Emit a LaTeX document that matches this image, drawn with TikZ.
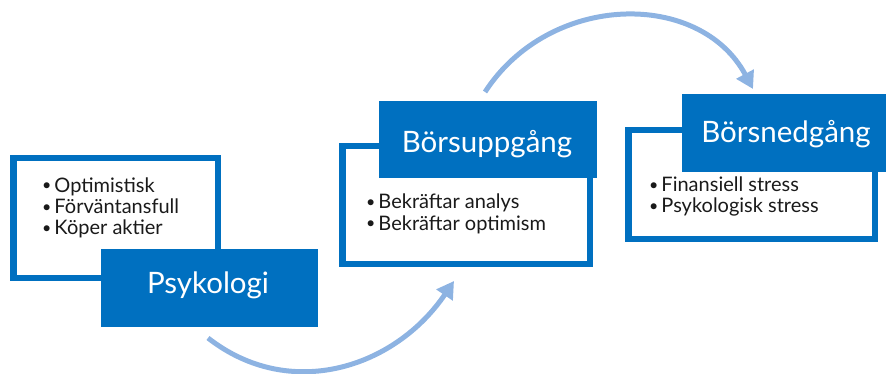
\documentclass[tikz,border=0pt]{standalone}
\usepackage{fontspec}
\setmainfont{Lato}
\usetikzlibrary{arrows.meta}
\definecolor{boxblue}{HTML}{0070C0}
\definecolor{arrowblue}{HTML}{8DB3E2}
\definecolor{bodytext}{HTML}{1A1A1A}
\newcommand{\blt}{\raisebox{0.1ex}{\scalebox{0.8}{•}}\hspace{0.15em}}
\begin{document}
\begin{tikzpicture}[x=1pt,y=-1pt,
  frame/.style={draw=boxblue,line width=6.5pt,fill=white},
  headbox/.style={fill=boxblue},
  headtext/.style={text=white,font=\fontsize{29.5}{32}\selectfont,anchor=base,inner sep=0pt},
  bullets/.style={text=bodytext,font=\fontsize{20}{21.5}\selectfont,align=left,anchor=base west,inner sep=0pt},
  flow/.style={draw=arrowblue,line width=5pt,-{Triangle[length=17pt,width=19pt]}}]
\useasboundingbox (0,0) rectangle (886,374);

% Psykologi (anchor is the baseline of the last line)
\draw[frame] (13.25,158.25) rectangle (217.75,277.75);
\fill[headbox] (101,249) rectangle (318,327);
\node[headtext] (psyk) at (208,293) {Psykologi};
\node[bullets] (psyklist) at (42,235) {\blt Optimistisk\\\blt Förväntansfull\\\blt Köper aktier};

% Börsuppgång
\draw[frame] (342.25,146.25) rectangle (589.75,263.75);
\fill[headbox] (379,101) rectangle (597,178);
\node[headtext] (upp) at (487,153) {Börsuppgång};
\node[bullets] (upplist) at (366,230) {\blt Bekräftar analys\\\blt Bekräftar optimism};

% Börsnedgång
\draw[frame] (628.25,130.25) rectangle (874.75,238.75);
\fill[headbox] (682,94) rectangle (886,172);
\node[headtext] (ned) at (786,143) {Börsnedgång};
\node[bullets] (nedlist) at (649,213) {\blt Finansiell stress\\\blt Psykologisk stress};

% curved arrows between the stages
\coordinate (a1s) at (208,338);
\coordinate (a1e) at (454,281);
\coordinate (a2s) at (485,92);
\coordinate (a2e) at (753,89);
\draw[flow] (a1s) .. controls (290,402) and (395,368) .. (a1e);
\draw[flow] (a2s) .. controls (550,-8) and (700,-10) .. (a2e);
\end{tikzpicture}
\end{document}
